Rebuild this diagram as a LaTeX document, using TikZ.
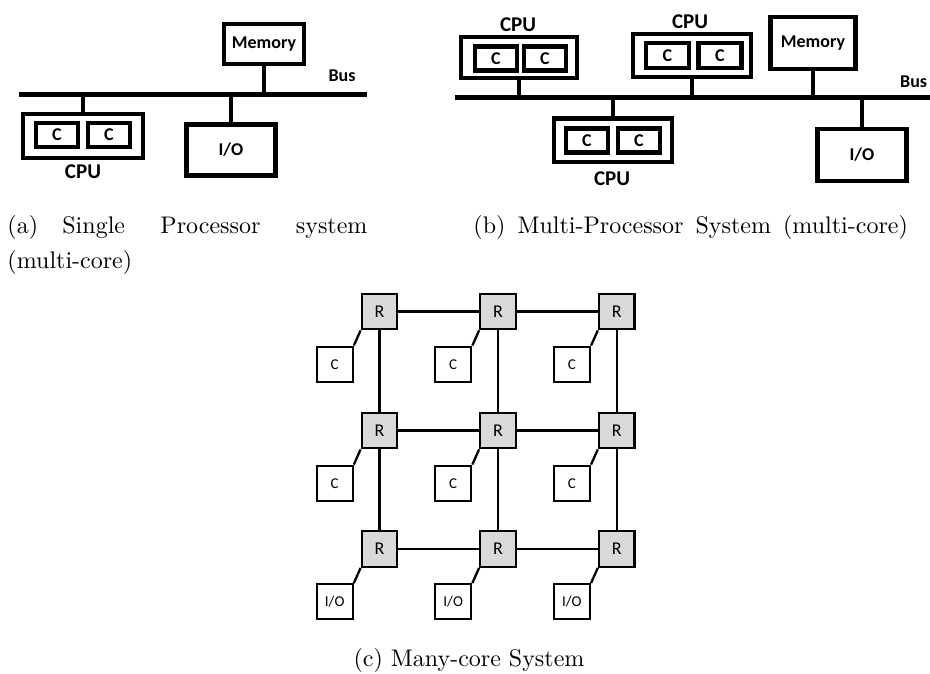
\documentclass[tikz,border=0pt]{standalone}
\usepackage{fontspec}
\newfontfamily\carlito{Carlito}
\usetikzlibrary{calc}
\definecolor{routergray}{HTML}{D9D9D9}
\begin{document}
\begin{tikzpicture}[x=1pt,y=-1pt,
  hwbox/.style={draw, line width=4.5pt, inner sep=0pt,
    font=\carlito\bfseries\fontsize{18}{20}\selectfont},
  corebox/.style={hwbox, minimum height=24pt},
  buswire/.style={line width=5pt},
  tap/.style={line width=4.5pt},
  boldlbl/.style={inner sep=0pt, font=\carlito\bfseries\fontsize{21}{24}\selectfont},
  buslbl/.style={inner sep=0pt, font=\carlito\bfseries\fontsize{18}{20}\selectfont},
  router/.style={draw, line width=2.3pt, fill=routergray, inner sep=0pt,
    minimum width=35.5pt, minimum height=35.5pt,
    font=\carlito\fontsize{18}{20}\selectfont},
  tile/.style={draw, line width=2.3pt, fill=white, inner sep=0pt,
    minimum width=36pt, minimum height=35pt,
    font=\carlito\fontsize{15}{17}\selectfont},
  mesh/.style={line width=2.3pt},
  captext/.style={scale=2.4, inner sep=0pt, font=\fontsize{10}{12}\selectfont}
]
\useasboundingbox (0,0) rectangle (930,673);

% ---------- (a) single processor ----------
\coordinate (aBusL) at (19,94.3);
\coordinate (aBusR) at (367,94.3);
\draw[buswire] (aBusL) -- (aBusR);
\node[buslbl] (aBus) at (342,76) {Bus};

\node[hwbox, minimum width=80pt, minimum height=40pt] (aMem) at (264,44) {Memory};
\draw[tap] (aMem.south) -- (aMem.south |- aBusL);

\node[hwbox, minimum width=120pt, minimum height=44pt] (aCPU) at (83,136) {};
\node[corebox, minimum width=42pt] (aC1) at (57,135) {C};
\node[corebox, minimum width=42pt] (aC2) at (109,135) {C};
\node[boldlbl] (aCPUl) at (83,172) {CPU};
\draw[tap] (aCPU.north) -- (aCPU.north |- aBusL);

\node[hwbox, minimum width=89pt, minimum height=51pt] (aIO) at (231,150) {I/O};
\draw[tap] (aIO.north) -- (aIO.north |- aBusL);

% ---------- (b) multi-processor ----------
\coordinate (bBusL) at (455,97.7);
\coordinate (bBusR) at (932,97.7);
\draw[buswire] (bBusL) -- (bBusR);
\node[buslbl, anchor=west] (bBus) at (900,82) {Bus};

\node[hwbox, minimum width=116pt, minimum height=41pt] (bCPU1) at (519,57.5) {};
\node[corebox, minimum width=42pt] (bC11) at (496,58.5) {C};
\node[corebox, minimum width=42pt] (bC12) at (545,58.5) {C};
\node[boldlbl] (bCPU1l) at (518,25) {CPU};
\draw[tap] (bCPU1.south) -- (bCPU1.south |- bBusL);

\node[hwbox, minimum width=118pt, minimum height=43pt] (bCPU2) at (692,55.5) {};
\node[corebox, minimum width=43pt, minimum height=25pt] (bC21) at (667.5,55.5) {C};
\node[corebox, minimum width=43pt, minimum height=25pt] (bC22) at (720,55.5) {C};
\node[boldlbl] (bCPU2l) at (690,22) {CPU};
\draw[tap] (bCPU2.south) -- (bCPU2.south |- bBusL);

\node[hwbox, minimum width=85pt, minimum height=52pt] (bMem) at (813,43) {Memory};
\draw[tap] (bMem.south) -- (bMem.south |- bBusL);

\node[hwbox, minimum width=118pt, minimum height=43.5pt] (bCPU3) at (613,140) {};
\node[corebox, minimum width=42pt] (bC31) at (587,140.5) {C};
\node[corebox, minimum width=42pt] (bC32) at (639,140.5) {C};
\node[boldlbl] (bCPU3l) at (612,179) {CPU};
\draw[tap] (bCPU3.north) -- (bCPU3.north |- bBusL);

\node[hwbox, minimum width=89pt, minimum height=52pt] (bIO) at (862,155) {I/O};
\draw[tap] (bIO.north) -- (bIO.north |- bBusL);

% ---------- (c) many-core mesh ----------
\foreach \i/\yy in {1/311.5,2/430.5,3/549}{
  \foreach \j/\xx in {1/379.5,2/498,3/616.7}{
    \node[router] (R\i\j) at (\xx,\yy) {R};
  }
}
\foreach \i in {1,2}{
  \foreach \j in {1,2,3}{
    \node[tile] (T\i\j) at ($(R\i\j)+(-44.8,52.7)$) {C};
  }
}
\foreach \j in {1,2,3}{
  \node[tile] (T3\j) at ($(R3\j)+(-44.8,52.7)$) {I/O};
}
\foreach \i in {1,2,3}{
  \draw[mesh] (R\i1.east) -- (R\i2.west);
  \draw[mesh] (R\i2.east) -- (R\i3.west);
  \foreach \j in {1,2,3}{
    \draw[mesh] (R\i\j.south west) -- (T\i\j.north east);
  }
}
\foreach \j in {1,2,3}{
  \draw[mesh] (R1\j.south) -- (R2\j.north);
  \draw[mesh] (R2\j.south) -- (R3\j.north);
}

% ---------- captions ----------
\node[captext, anchor=base west] (capA1) at (7,233)
  {\hbox to 150pt{(a)\hspace{10.1pt}Single\hfill Processor\hfill system}};
\node[captext, anchor=base west] (capA2) at (7,268) {(multi-core)};
\node[captext, anchor=base west] (capB) at (473,233)
  {\hbox to 181pt{(b) Multi-Processor System (multi-core)}};
\node[captext, anchor=base] (capC) at (469,666) {(c) Many-core System};
\end{tikzpicture}
\end{document}
